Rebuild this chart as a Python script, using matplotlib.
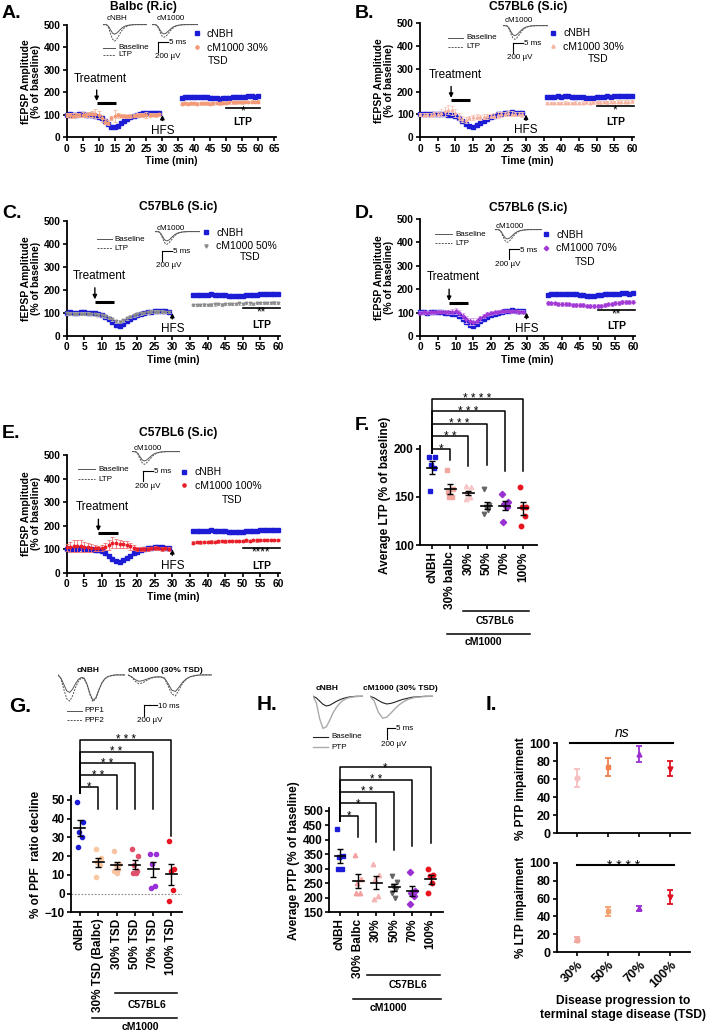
import matplotlib
matplotlib.use("Agg")
import matplotlib.pyplot as plt
from matplotlib.lines import Line2D
import numpy as np

plt.rcParams["font.family"] = ["Liberation Sans", "DejaVu Sans"]
plt.rcParams["axes.linewidth"] = 1.3
plt.rcParams["xtick.major.width"] = 1.2
plt.rcParams["ytick.major.width"] = 1.2
plt.rcParams["xtick.major.size"] = 3
plt.rcParams["ytick.major.size"] = 3

W, H = 709, 1032

# ---------------- time courses (fEPSP amplitude, % of baseline) ----------------
T_PRE = list(range(0, 30))
T_POST = list(range(36, 61))

CNBH_PRE = [101, 102, 100, 101, 103, 102, 101, 100, 98, 96, 92, 84, 72, 60, 48,
            44, 52, 63, 73, 82, 89, 95, 100, 104, 106, 108, 109, 108, 107, 106]
CNBH_POST = [176, 178, 178, 179, 178, 180, 179, 178, 178, 177, 175, 173, 172,
             173, 175, 177, 178, 179, 178, 180, 181, 182, 183, 181, 182]
CNBH_SEM = [6, 5]

BALBC30_PRE = [100, 98, 97, 99, 100, 101, 100, 102, 103, 104, 100, 85, 70, 65, 85,
               95, 98, 97, 94, 93, 95, 97, 98, 98, 100, 100, 100, 101, 100, 102]
BALBC30_PRE_SEM = [10, 10, 10, 10, 10, 10, 10, 10, 12, 20, 15, 15, 12, 10, 10,
                   25, 10, 8, 8, 8, 8, 8, 8, 8, 10, 12, 10, 8, 8, 8]
BALBC30_POST = [150, 151, 150, 151, 152, 150, 151, 152, 151, 150, 152, 153, 152,
                154, 153, 155, 156, 155, 157, 156, 158, 157, 158, 157, 158]

C30_PRE = [100, 98, 100, 99, 101, 103, 108, 115, 120, 118, 105, 90, 80, 75, 85,
           88, 90, 88, 90, 92, 93, 95, 98, 100, 102, 105, 104, 103, 102, 100]
C30_PRE_SEM = [8, 8, 8, 8, 8, 10, 15, 20, 20, 20, 18, 15, 15, 12, 10,
               10, 10, 10, 10, 10, 10, 10, 12, 10, 10, 10, 10, 10, 10, 10]
C30_POST = [150, 151, 150, 150, 151, 152, 151, 150, 152, 151, 152, 153, 152,
            154, 153, 154, 155, 154, 156, 155, 156, 157, 156, 157, 158]

C50_PRE = [98, 97, 96, 97, 96, 97, 96, 95, 94, 92, 90, 86, 80, 72, 64,
           62, 68, 76, 84, 90, 94, 98, 100, 103, 105, 106, 106, 105, 104, 104]
C50_POST = [133, 135, 134, 136, 134, 136, 137, 138, 136, 138, 139, 140, 138,
            141, 140, 142, 141, 140, 143, 142, 144, 143, 144, 145, 144]
C50_SEM = [6, 5]

C70_PRE = [100, 101, 100, 102, 101, 103, 104, 103, 102, 104, 106, 98, 85, 72, 63,
           60, 66, 76, 86, 94, 98, 102, 104, 106, 107, 107, 106, 105, 104, 104]
C70_PRE_SEM = [6, 6, 6, 6, 6, 6, 6, 6, 8, 10, 12, 12, 12, 15, 15,
               15, 12, 10, 8, 8, 8, 6, 6, 6, 6, 6, 6, 6, 6, 6]
C70_POST = [140, 139, 139, 138, 137, 136, 135, 134, 133, 132, 131, 130, 129,
            128, 128, 130, 132, 135, 138, 140, 142, 144, 145, 146, 147]

C100_PRE = [108, 110, 112, 115, 112, 110, 108, 105, 104, 103, 106, 110, 118, 128, 125,
            122, 120, 118, 112, 106, 102, 100, 100, 101, 103, 104, 103, 102, 103, 102]
C100_PRE_SEM = [15, 20, 25, 25, 25, 20, 20, 15, 12, 12, 12, 15, 20, 25, 20,
                15, 15, 15, 15, 10, 8, 8, 8, 8, 8, 8, 8, 8, 8, 8]
C100_POST = [128, 130, 129, 131, 130, 132, 131, 133, 134, 133, 134, 135, 134,
             136, 135, 137, 136, 138, 137, 138, 139, 138, 140, 139, 140]

# example traces (µV, one sample per ~0.5 ms)
TRACE_BASE = [0, 0, -5, -40, -110, -170, -190, -175, -140, -100, -65, -40,
              -25, -15, -8, -4, -2, 0, 0, 0, 0, 0, 0, 0]
TRACE_LTP_CNBH = [0, 0, -8, -70, -190, -290, -330, -300, -240, -170, -110, -70,
                  -42, -25, -13, -6, -3, 0, 0, 0, 0, 0, 0, 0]
TRACE_LTP_CM = [0, 0, -6, -55, -150, -230, -260, -235, -190, -135, -88, -55,
                -33, -20, -10, -5, -2, 0, 0, 0, 0, 0, 0, 0]

PPF1_CNBH = [0, -10, -30, -50, -55, -45, -28, -14, -8, -10, -30, -60, -80, -72,
             -48, -26, -13, -6, -3, -1, 0, 0, 0, 0]
PPF2_CNBH = [0, -12, -45, -75, -82, -66, -40, -20, -10, -12, -32, -62, -84, -74,
             -48, -26, -13, -6, -3, -1, 0, 0, 0, 0]
PPF1_CM = [0, -6, -15, -20, -18, -14, -10, -7, -6, -6, -10, -28, -48, -52, -38,
           -22, -12, -6, -3, -1, 0, 0, 0, 0]
PPF2_CM = [0, -7, -20, -28, -25, -18, -12, -8, -7, -7, -12, -35, -60, -66, -46,
           -26, -13, -6, -3, -1, 0, 0, 0, 0]

PTP_BASE_CNBH = [0, -5, -15, -25, -30, -28, -22, -16, -11, -7, -4, -2, -1, 0, 0, 0]
PTP_PTP_CNBH = [0, -20, -70, -100, -95, -75, -52, -35, -22, -13, -7, -4, -2, -1, 0, 0]
PTP_BASE_CM = [0, -5, -13, -20, -24, -22, -18, -13, -9, -6, -3, -2, -1, 0, 0, 0]
PTP_PTP_CM = [0, -15, -50, -68, -65, -52, -38, -26, -17, -10, -6, -3, -2, -1, 0, 0]

# ---------------- summary panels ----------------
F_LABELS = ["cNBH", "30% balbc", "30%", "50%", "70%", "100%"]
F_CNBH = [192, 192, 183, 180, 156]
F_BALBC30 = [178, 158, 150, 150, 155]
F_30 = [161, 160, 155, 150, 148, 150]
F_50 = [158, 142, 140, 138, 132, 136]
F_70 = [153, 145, 143, 140, 124]
F_100 = [160, 140, 140, 130, 120]
F_STARS = ["*", "**", "***", "***", "****"]

G_LABELS = ["cNBH", "30% TSD (Balbc)", "30% TSD", "50% TSD", "70% TSD", "100% TSD"]
G_CNBH = [49, 38, 33, 30, 25]
G_BALBC30 = [24, 19, 17, 15, 9]
G_30 = [23, 16, 15, 13, 12, 11]
G_50 = [24, 20, 15, 12, 11, 11]
G_70 = [21, 21, 16, 4, 3]
G_100 = [28, 13, 12, 2, -4]
G_STARS = ["*", "**", "**", "**", "***"]

H_LABELS = ["cNBH", "30% Balbc", "30%", "50%", "70%", "100%"]
H_CNBH = [438, 345, 340, 300, 300]
H_BALBC30 = [348, 265, 250, 215, 215]
H_30 = [318, 280, 265, 205, 195]
H_50 = [275, 255, 240, 230, 215, 200]
H_70 = [290, 225, 215, 205, 180]
H_100 = [298, 280, 275, 250, 215]
H_STARS = ["*", "*", "**", "**", "*"]

I_LABELS = ["30%", "50%", "70%", "100%"]
PTP_MEAN = [62, 74, 88, 72]
PTP_SEM = [10, 10, 9, 8]
LTP_MEAN = [14, 46, 49, 62]
LTP_SEM = [3, 5, 3, 8]

BLUE = "#1c1cd6"
BLUE_ERR = "#6b6bff"

fig = plt.figure(figsize=(W / 100, H / 100), dpi=100)


def add_box(x0, y0, x1, y1):
    return fig.add_axes([x0 / W, 1 - y1 / H, (x1 - x0) / W, (y1 - y0) / H])


def ftext(x, y, s, **kw):
    kw.setdefault("va", "center")
    fig.text(x / W, 1 - y / H, s, **kw)


def fline(xs, ys, **kw):
    kw.setdefault("color", "k")
    kw.setdefault("lw", 0.8)
    fig.add_artist(Line2D([x / W for x in xs], [1 - y / H for y in ys],
                          transform=fig.transFigure, **kw))


def bold_ticks(ax):
    for lab in ax.get_xticklabels() + ax.get_yticklabels():
        lab.set_fontweight("bold")


def clean(ax, fs=7):
    ax.spines["top"].set_visible(False)
    ax.spines["right"].set_visible(False)
    ax.tick_params(direction="out", labelsize=fs, pad=1.5)


def spaced(stars):
    return " ".join(stars)


def trace_box(box, traces, styles, ylim):
    ax = add_box(*box)
    for tr, st in zip(traces, styles):
        ax.plot(np.arange(len(tr)), tr, **st)
    ax.set_ylim(*ylim)
    ax.set_xlim(0, len(traces[0]) - 1)
    ax.axis("off")


def scale_bar(x, y, w, h, t1, t2, t2x):
    fline([x, x], [y, y + h], lw=0.8)
    fline([x, x + w], [y, y], lw=0.8)
    ftext(x + w + 1, y + 1, t1, fontsize=5.8)
    ftext(t2x, y + h + 5, t2, fontsize=5.8)


def trace_legend(x0, x1, ys, labels, styles):
    for y, lab, st in zip(ys, labels, styles):
        fline([x0, x1], [y, y], **st)
        ftext(x1 + 3, y, lab, fontsize=5.8)


SOLID = dict(color="#555555", lw=0.7)
DASHED = dict(color="#555555", lw=0.7, ls=(0, (2, 1.2)))

# ---------------- panels A-E ----------------
PANELS = [
    dict(letter="A.", lxy=(2, 14), title="Balbc (R.ic)", txy=(143, 7),
         box=(66.7, 25, 275.6, 137.3), xmax=65.5, xtop=65,
         pre=BALBC30_PRE, pre_sem=BALBC30_PRE_SEM, post=BALBC30_POST, post_sem=6,
         color="#f29a78", ecolor="#f7b89c", marker="o", label="cM1000 30%",
         tsd=(44.3, 338, "left"), leg=(39.4, 482),
         treat=(9.4, 15.4, 151), ltp=(132, "*", 115, 66),
         insets=[((103, 24, 147, 42), (117, 19), "cNBH", [TRACE_BASE, TRACE_LTP_CNBH]),
                 ((152, 24, 198, 38), (171, 19), "cM1000", [TRACE_BASE, TRACE_LTP_CM])],
         tleg=(103, 115, [47.7, 55]), sbar=(158.3, 41.7, 155)),
    dict(letter="B.", lxy=(355, 14), title="C57BL6 (S.ic)", txy=(528, 7),
         box=(420, 23.3, 633.8, 137.3), xmax=60.5, xtop=60,
         pre=C30_PRE, pre_sem=C30_PRE_SEM, post=C30_POST, post_sem=6,
         color="#f7b3a0", ecolor="#f9c9ba", marker="^", label="cM1000 30%",
         tsd=(50.5, 344, "center"), leg=(36.4, 478),
         treat=(8.8, 14.1, 163), ltp=(137, "*", 120, 68),
         insets=[((503, 25, 548, 40), (519, 20), "cM1000", [TRACE_BASE, TRACE_LTP_CM])],
         tleg=(448, 463, [37.7, 46.7]), sbar=(513, 42.7, 507)),
    dict(letter="C.", lxy=(2, 213), title="C57BL6 (S.ic)", txy=(178, 207),
         box=(66.7, 220.7, 279.7, 336), xmax=60.5, xtop=60,
         pre=C50_PRE, pre_sem=C50_SEM[0], post=C50_POST, post_sem=C50_SEM[1],
         color="#8c8c8c", ecolor="#b8b8b8", marker="v", label="cM1000 50%",
         tsd=(52.1, 344, "center"), leg=(38.4, 470),
         treat=(8.0, 13.5, 149), ltp=(123, "**", 104, 48),
         insets=[((155, 231, 200, 245), (171, 228.5), "cM1000", [TRACE_BASE, TRACE_LTP_CM])],
         tleg=(96.7, 111.7, [239.3, 248.3]), sbar=(162.3, 250.7, 156)),
    dict(letter="D.", lxy=(355, 213), title="C57BL6 (S.ic)", txy=(528, 208),
         box=(420, 219, 634.8, 336), xmax=60.5, xtop=60,
         pre=C70_PRE, pre_sem=C70_PRE_SEM, post=C70_POST, post_sem=8,
         color="#a23bd6", ecolor="#d9a6ee", marker="D", label="cM1000 70%",
         tsd=(46.5, 317, "center"), leg=(34.3, 455),
         treat=(8.2, 13.6, 140), ltp=(113, "**", 94, 42),
         insets=[((495, 229, 542, 243), (510, 226), "cM1000", [TRACE_BASE, TRACE_LTP_CM])],
         tleg=(435, 452, [234.3, 243.3]), sbar=(509, 249, 495)),
    dict(letter="E.", lxy=(2, 433), title="C57BL6 (S.ic)", txy=(178, 433),
         box=(66.7, 455, 279.7, 572.7), xmax=60.5, xtop=60,
         pre=C100_PRE, pre_sem=C100_PRE_SEM, post=C100_POST, post_sem=5,
         color="#e8202a", ecolor="#f07070", marker="o", label="cM1000 100%",
         tsd=(46.9, 309, "center"), leg=(32.2, 447),
         treat=(9.0, 14.7, 167), ltp=(106, "****", 84, 27),
         insets=[((131.7, 451, 180, 465), (148, 448), "cM1000", [TRACE_BASE, TRACE_LTP_CM])],
         tleg=(78, 95, [469.3, 479.3]), sbar=(142.7, 471, 135)),
]

for p in PANELS:
    ax = add_box(*p["box"])
    ax.errorbar(T_PRE, CNBH_PRE, yerr=CNBH_SEM[0], fmt="s", ms=2.2, color=BLUE,
                ecolor=BLUE_ERR, elinewidth=0.6, capsize=1.2, capthick=0.6,
                clip_on=False, zorder=3)
    ax.errorbar(T_POST, CNBH_POST, yerr=CNBH_SEM[1], fmt="s", ms=2.2, color=BLUE,
                ecolor=BLUE_ERR, elinewidth=0.6, capsize=1.2, capthick=0.6,
                clip_on=False, zorder=3)
    ax.errorbar(T_PRE, p["pre"], yerr=p["pre_sem"], fmt=p["marker"], ms=1.8,
                color=p["color"], ecolor=p["ecolor"], elinewidth=0.6, capsize=1.2,
                capthick=0.6, clip_on=False, zorder=4)
    ax.errorbar(T_POST, p["post"], yerr=p["post_sem"], fmt=p["marker"], ms=1.8,
                color=p["color"], ecolor=p["ecolor"], elinewidth=0.6, capsize=1.2,
                capthick=0.6, clip_on=False, zorder=4)
    ax.set_xlim(0, p["xmax"])
    ax.set_ylim(0, 500)
    ax.set_xticks(range(0, p["xtop"] + 1, 5))
    ax.set_yticks(range(0, 501, 100))
    clean(ax, 7.3)
    bold_ticks(ax)
    ax.set_xlabel("Time (min)", fontsize=7.5, fontweight="bold", labelpad=2)
    ax.set_ylabel("fEPSP Amplitude\n(% of baseline)", fontsize=7.5,
                  fontweight="bold", labelpad=2, linespacing=1.0)

    handles = [Line2D([], [], ls="none", marker="s", ms=2.5, color=BLUE),
               Line2D([], [], ls="none", marker=p["marker"], ms=2.3, color=p["color"])]
    ax.legend(handles, ["cNBH", p["label"]], loc="upper left",
              bbox_to_anchor=p["leg"], bbox_transform=ax.transData,
              frameon=False, fontsize=7.5, handlelength=0.8, handletextpad=0.6,
              labelspacing=0.35, borderpad=0, borderaxespad=0)
    tx, ty, tha = p["tsd"]
    ax.text(tx, ty, "TSD", fontsize=7.5, ha=tha, va="center")

    x0, x1, by = p["treat"]
    ax.plot([x0, x1], [by, by], color="k", lw=2.2, solid_capstyle="butt")
    ax.annotate("", xy=(x0, by - 2), xytext=(x0, by + 72),
                arrowprops=dict(arrowstyle="-|>", lw=1.0, color="k", mutation_scale=6))
    ax.text(x0 + 1.2, by + 110, "Treatment", fontsize=8.5, ha="center", va="center")

    ax.annotate("", xy=(30, 112), xytext=(30, 62),
                arrowprops=dict(arrowstyle="-|>", lw=1.0, color="k", mutation_scale=6))
    ax.text(30, 30, "HFS", fontsize=8.5, ha="center", va="center")

    ly, stars, sy, lty = p["ltp"]
    ax.plot([50, 60.6], [ly, ly], color="k", lw=1.2, clip_on=False)
    ax.text(55.3, sy, stars, fontsize=8.5, ha="center", va="center")
    ax.text(55.3, lty, "LTP", fontsize=7.5, ha="center", va="center", fontweight="bold")

    ftext(p["lxy"][0], p["lxy"][1], p["letter"], fontsize=14, fontweight="bold")
    ftext(p["txy"][0], p["txy"][1], p["title"], fontsize=8.75, fontweight="bold",
          ha="center")

    for bx, (lx, lyy), name, trs in p["insets"]:
        lo = min(min(t) for t in trs)
        trace_box(bx, trs, [SOLID, DASHED], (lo * 1.05, 12))
        ftext(lx, lyy, name, fontsize=5.8, ha="center")
    tx0, tx1, tys = p["tleg"]
    trace_legend(tx0, tx1, tys, ["Baseline", "LTP"], [SOLID, DASHED])
    sx, sy0, s2x = p["sbar"]
    scale_bar(sx, sy0, 10, 10, "5 ms", "200 µV", s2x)


# ---------------- dot plots F, G, H ----------------
OFFS = [-0.15, 0.15, -0.05, 0.1, -0.12, 0.05]


def dot_panel(ax, groups, colors, markers, ms):
    for i, (vals, c, m) in enumerate(zip(groups, colors, markers)):
        vals = np.asarray(vals, float)
        xs = i + np.array(OFFS[:len(vals)])
        ax.plot(xs, vals, ls="none", marker=m, ms=ms, color=c, mec=c, zorder=2,
                clip_on=False)
        mean = vals.mean()
        sem = vals.std(ddof=1) / np.sqrt(len(vals))
        ax.plot([i - 0.3, i + 0.3], [mean, mean], color="k", lw=1.2, zorder=3)
        ax.errorbar(i, mean, yerr=sem, fmt="none", ecolor="k", elinewidth=1.0,
                    capsize=2.5, capthick=1.0, zorder=3)


def brackets(ax, heights, left_end, right_ends, stars, fs):
    for i, (hy, ry, st) in enumerate(zip(heights, right_ends, stars), start=1):
        ax.plot([0, 0, i, i], [left_end, hy, hy, ry], color="k", lw=1.1,
                clip_on=False)
        ax.annotate(spaced(st), xy=(i / 2, hy), xytext=(0, -2.5),
                    textcoords="offset points", ha="center", va="baseline",
                    fontsize=fs, annotation_clip=False)


def group_lines(ax, spans):
    tr = ax.get_xaxis_transform()
    for a, b, yl, txt, xt, yt in spans:
        ax.plot([a, b], [yl, yl], color="k", lw=1.1, transform=tr, clip_on=False)
        ax.text(xt, yt, txt, transform=tr, ha="center", va="center", fontsize=7.5,
                fontweight="bold")


def cat_axes(ax, labels, fs=8.5):
    ax.set_xticks(range(len(labels)))
    ax.set_xticklabels(labels, rotation=90)
    clean(ax, fs)
    bold_ticks(ax)


# F
axF = add_box(420, 446, 537, 545)
dot_panel(axF, [F_CNBH, F_BALBC30, F_30, F_50, F_70, F_100],
          [BLUE, "#f0a8a0", "#f7c6c6", "#666666", "#9b30d0", "#e8141e"],
          ["s", "s", "^", "v", "D", "o"], 3.2)
axF.set_xlim(-0.66, 5.77)
axF.set_ylim(100, 203)
axF.set_yticks([100, 150, 200])
cat_axes(axF, F_LABELS)
axF.set_ylabel("Average LTP (% of baseline)", fontsize=8.5, fontweight="bold", labelpad=2)
brackets(axF, [200, 213, 226, 239, 252], 196, [188, 182, 183, 177, 177], F_STARS, 8.5)
group_lines(axF, [(1.7, 5.33, -0.667, "C57BL6", 3.46, -0.77),
                  (0.82, 5.38, -0.9, "cM1000", 2.85, -0.98)])
ftext(355, 425, "F.", fontsize=14, fontweight="bold")

# G
axG = add_box(71, 796.2, 181.7, 912.3)
axG.axhline(0, color="#888888", lw=0.8, ls=(0, (1.5, 1.5)), zorder=1)
dot_panel(axG, [G_CNBH, G_BALBC30, G_30, G_50, G_70, G_100],
          [BLUE, "#f9c8a0", "#f6c3a3", "#e0506a", "#9a30d8", "#e81420"],
          ["o", "o", "o", "o", "o", "o"], 3.0)
axG.set_xlim(-0.49, 5.56)
axG.set_ylim(-10, 52)
axG.set_yticks(range(-10, 51, 10))
cat_axes(axG, G_LABELS)
axG.set_ylabel("% of PPF  ratio decline", fontsize=8.5, fontweight="bold", labelpad=2)
brackets(axG, [57.1, 63.3, 69.5, 75.8, 82.1], 53.6, [45, 45, 45, 45, 30.5], G_STARS, 8.3)
group_lines(axG, [(1.91, 5.28, -0.696, "C57BL6", 3.64, -0.8),
                  (0.64, 5.28, -0.909, "cM1000", 3.28, -0.99)])
ftext(9, 707, "G.", fontsize=15, fontweight="bold")
plo = min(min(PPF2_CNBH), min(PPF2_CM)) * 1.05
trace_box((58, 673, 125, 703), [PPF1_CNBH, PPF2_CNBH], [SOLID, DASHED], (plo, 6))
trace_box((128, 673, 212, 703), [PPF1_CM, PPF2_CM], [SOLID, DASHED], (plo, 6))
ftext(88, 671, "cNBH", fontsize=6, fontweight="bold", ha="center")
ftext(165, 670, "cM1000 (30% TSD)", fontsize=6, fontweight="bold", ha="center")
trace_legend(66.7, 81.7, [711, 720], ["PPF1", "PPF2"], [SOLID, DASHED])
scale_bar(144, 705, 12.7, 11, "10 ms", "200 µV", 136.7)

# H
axH = add_box(329.3, 808.4, 443, 912.3)
dot_panel(axH, [H_CNBH, H_BALBC30, H_30, H_50, H_70, H_100],
          [BLUE, "#f4a0a0", "#f4b4b4", "#666666", "#9b30d0", "#e8141e"],
          ["s", "^", "^", "v", "D", "o"], 3.2)
axH.set_xlim(-0.59, 5.69)
axH.set_ylim(150, 508)
axH.set_yticks(range(150, 501, 50))
cat_axes(axH, H_LABELS)
axH.set_ylabel("Average PTP (% of baseline)", fontsize=8.5, fontweight="bold", labelpad=2)
brackets(axH, [483, 525, 566, 607, 649], 463, [410, 393, 365, 380, 388], H_STARS, 8.3)
group_lines(axH, [(1.47, 5.52, -0.603, "C57BL6", 3.75, -0.70),
                  (0.74, 5.56, -0.834, "cM1000", 2.65, -0.92)])
ftext(257, 705, "H.", fontsize=15, fontweight="bold")
hlo = min(PTP_PTP_CNBH) * 1.05
BLACK_T = dict(color="#222222", lw=0.8)
GREY_T = dict(color="#aaaaaa", lw=1.0)
trace_box((313, 695, 363, 730), [PTP_BASE_CNBH, PTP_PTP_CNBH], [BLACK_T, GREY_T], (hlo, 4))
trace_box((370, 695, 433, 730), [PTP_BASE_CM, PTP_PTP_CM], [BLACK_T, GREY_T], (hlo, 4))
ftext(327, 689, "cNBH", fontsize=6, fontweight="bold", ha="center")
ftext(400, 689, "cM1000 (30% TSD)", fontsize=6, fontweight="bold", ha="center")
trace_legend(313, 328, [736.7, 747.3], ["Baseline", "PTP"], [BLACK_T, GREY_T])
scale_bar(387.3, 728, 8, 11, "5 ms", "200 µV", 381)

# ---------------- I ----------------
I_PTP_COLORS = ["#f4c0c0", "#f08050", "#9b30d0", "#e01020"]
I_LTP_COLORS = ["#f0a8a0", "#f4a070", "#9b30d0", "#e01020"]
I_MARKERS = ["o", "s", "^", "v"]

axI1 = add_box(556.7, 743.3, 690, 833.3)
axI2 = add_box(556.7, 862.7, 690, 952.3)
for ax, means, sems, cols in ((axI1, PTP_MEAN, PTP_SEM, I_PTP_COLORS),
                              (axI2, LTP_MEAN, LTP_SEM, I_LTP_COLORS)):
    for i, (m, s, c, mk) in enumerate(zip(means, sems, cols, I_MARKERS)):
        ax.errorbar(i, m, yerr=s, fmt=mk, ms=3.5, color=c, ecolor=c,
                    elinewidth=1.3, capsize=2.5, capthick=1.3)
    ax.set_xlim(-0.66, 3.63)
    ax.set_ylim(0, 100)
    ax.set_yticks(range(0, 101, 20))
    ax.set_xticks(range(4))
    clean(ax, 9)
axI1.set_xticklabels([])
axI2.set_xticklabels(I_LABELS, rotation=45, ha="right", rotation_mode="anchor",
                     fontsize=9)
bold_ticks(axI1)
bold_ticks(axI2)
axI1.set_ylabel("% PTP impairment", fontsize=8.5, fontweight="bold", labelpad=2)
axI2.set_ylabel("% LTP impairment", fontsize=8.5, fontweight="bold", labelpad=2)
axI1.plot([-0.24, 3.09], [100, 100], color="k", lw=1.5, clip_on=False)
axI1.text(1.45, 104, "ns", fontsize=10, style="italic", ha="center", va="bottom")
axI2.plot([0, 3.1], [97, 97], color="k", lw=1.5, clip_on=False)
axI2.annotate(spaced("****"), xy=(1.5, 97), xytext=(0, -3), textcoords="offset points",
              ha="center", va="baseline", fontsize=10)
axI2.set_xlabel("Disease progression to\nterminal stage disease (TSD)", fontsize=8.7,
                fontweight="bold", labelpad=4)
ftext(486, 705, "I.", fontsize=15, fontweight="bold")

fig.savefig("out.png", dpi=100)
